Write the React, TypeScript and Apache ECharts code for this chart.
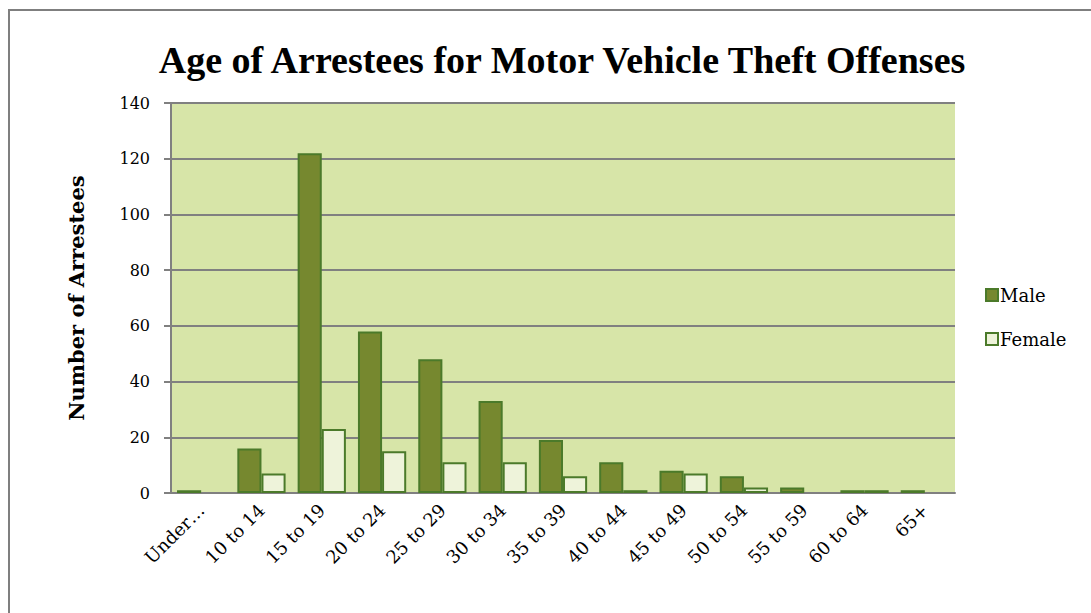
import React, { useEffect, useRef } from "react";
import * as echarts from "echarts";

const categories = ["Under…", "10 to 14", "15 to 19", "20 to 24", "25 to 29", "30 to 34", "35 to 39", "40 to 44", "45 to 49", "50 to 54", "55 to 59", "60 to 64", "65+"];
const maleValues = [1, 16, 122, 58, 48, 33, 19, 11, 8, 6, 2, 1, 1];
const femaleValues = [0, 7, 23, 15, 11, 11, 6, 1, 7, 2, 0, 1, 0];
const yTicks = { min: 0, max: 140, interval: 20 };

const TITLE_FONT = "'Liberation Serif', 'DejaVu Serif', serif";
const FONT = "'DejaVu Serif', 'Liberation Serif', serif";

const hideZero = (arr: number[]) => arr.map((v) => (v === 0 ? "-" : v));

export default function App() {
  const ref = useRef<HTMLDivElement>(null);
  useEffect(() => {
    if (!ref.current) return;
    const chart = echarts.init(ref.current, undefined, { renderer: "svg" });
    chart.setOption({
      animation: false,
      backgroundColor: "#ffffff",
      textStyle: { fontFamily: FONT },
      title: {
        text: "Age of Arrestees for Motor Vehicle Theft Offenses",
        left: 557,
        textAlign: "center",
        top: 36,
        textStyle: { fontFamily: TITLE_FONT, fontWeight: "bold", fontSize: 38, color: "#000" },
      },
      graphic: [
        {
          type: "rect",
          shape: { x: 9, y: 10, width: 2000, height: 2000 },
          style: { fill: "none", stroke: "#7f7f7f", lineWidth: 2 },
          silent: true,
        },
      ],
      legend: {
        orient: "vertical",
        left: 980,
        top: 281,
        icon: "rect",
        itemWidth: 12,
        itemHeight: 12,
        itemGap: 26,
        textStyle: { fontFamily: FONT, fontSize: 18, color: "#000", padding: [0, 0, 0, -3] },
        data: ["Male", "Female"],
      },
      grid: {
        left: 171,
        right: 136,
        top: 103,
        bottom: 120,
        show: true,
        backgroundColor: "#d7e5a8",
        borderWidth: 0,
      },
      xAxis: {
        type: "category",
        data: categories,
        axisLine: { lineStyle: { color: "#808080", width: 2 } },
        axisTick: { length: 7, lineStyle: { color: "#808080", width: 2 } },
        axisLabel: {
          rotate: 45,
          interval: 0,
          margin: 14,
          fontFamily: FONT,
          fontSize: 18,
          color: "#000",
        },
      },
      yAxis: {
        type: "value",
        min: yTicks.min,
        max: yTicks.max,
        interval: yTicks.interval,
        name: "Number of Arrestees",
        nameLocation: "middle",
        nameGap: 84,
        nameTextStyle: { fontFamily: FONT, fontWeight: "bold", fontSize: 21, color: "#000" },
        axisLine: { show: true, lineStyle: { color: "#808080", width: 2 } },
        axisTick: { show: true, length: 7, lineStyle: { color: "#808080", width: 2 } },
        axisLabel: { margin: 21, fontFamily: FONT, fontSize: 16, color: "#000" },
        splitLine: { lineStyle: { color: "#808080", width: 2 } },
      },
      series: [
        {
          name: "Male",
          type: "bar",
          data: hideZero(maleValues),
          barGap: "0%",
          barCategoryGap: "20%",
          itemStyle: { color: "#76882f", borderColor: "#4b7a2a", borderWidth: 2 },
        },
        {
          name: "Female",
          type: "bar",
          data: hideZero(femaleValues),
          itemStyle: { color: "#eef3da", borderColor: "#4b7a2a", borderWidth: 2 },
        },
      ],
    });
    return () => chart.dispose();
  }, []);
  return (
    <div
      ref={ref}
      style={{ position: "fixed", left: 0, top: 0, width: 1091, height: 613 }}
    />
  );
}
